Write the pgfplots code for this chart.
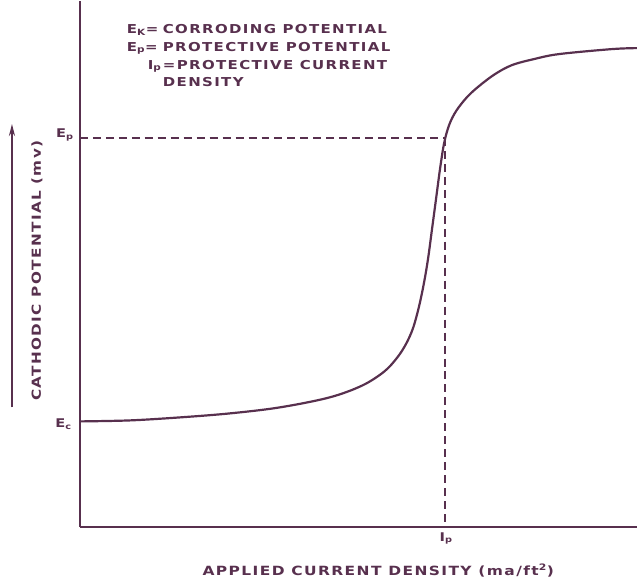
\documentclass[border=0pt]{standalone}
\usepackage{pgfplots}
\pgfplotsset{compat=1.18}
\usetikzlibrary{arrows.meta}
\usepackage{fontspec}
\setmainfont{DejaVu Sans}
\newfontfamily\lab{DejaVu Sans}[FakeStretch=1.22, LetterSpace=11]
\newfontfamily\ylab{DejaVu Sans}[FakeStretch=1.22, LetterSpace=11]
\definecolor{ink}{RGB}{88,48,78}
\begin{document}
\begin{tikzpicture}
\begin{axis}[
  scale only axis, width=558pt, height=527pt,
  xmin=0, xmax=558, ymin=0, ymax=527,
  axis lines=left, axis line style={-, line width=2.4pt, draw=ink},
  ticks=none, clip=false]
\addplot[ink, line width=2.2pt, smooth, tension=0.55] coordinates {
(0,106) (50,107) (100,110) (150,114) (200,120) (250,130) (283,142) (305,156)
(318,170) (327,184) (334,200) (340,222) (345,246) (349,270) (353,300) (357,330)
(361,360) (365,385) (370,403) (377,417) (388,431) (400,442) (416,454)
(433,463) (455,469) (480,474) (533,479) (558,480)};
\addplot[ink, line width=2pt, dash pattern=on 8pt off 5pt] coordinates {(0,390) (366,390)};
\addplot[ink, line width=2pt, dash pattern=on 8pt off 5pt] coordinates {(366,390) (366,0)};
% legend text
\begin{scope}[every node/.style={text=ink, font=\lab\bfseries\fontsize{12.3}{14}\selectfont, inner sep=0pt}]
\node[anchor=base west] at (axis cs:47,495) {E\textsubscript{K}=};
\node[anchor=base west] at (axis cs:83,495) {CORRODING POTENTIAL};
\node[anchor=base west] at (axis cs:47,477) {E\textsubscript{p}=};
\node[anchor=base west] at (axis cs:83,477) {PROTECTIVE POTENTIAL};
\node[anchor=base west] at (axis cs:68,459) {I\textsubscript{p}};
\node[anchor=base west] at (axis cs:83,459) {=};
\node[anchor=base west] at (axis cs:97,459) {PROTECTIVE CURRENT};
\node[anchor=base west] at (axis cs:83,442) {DENSITY};
\end{scope}
\begin{scope}[every node/.style={text=ink, font=\lab\bfseries\fontsize{12}{14}\selectfont, inner sep=0pt}]
\node[anchor=base east] at (axis cs:-6,390) {E\textsubscript{p}};
\node[anchor=base east] at (axis cs:-8,100) {E\textsubscript{c}};
\node[anchor=north] at (axis cs:367,-5) {I\textsubscript{p}};
\end{scope}
\node[text=ink, font=\ylab\bfseries\fontsize{12.5}{15}\selectfont, rotate=90, anchor=center, inner sep=0pt] at (axis cs:-43,257) {CATHODIC POTENTIAL (mv)};
\node[text=ink, font=\lab\bfseries\fontsize{12.7}{15}\selectfont, anchor=base, inner sep=0pt] at (axis cs:299,-48) {APPLIED CURRENT DENSITY (ma/ft\textsuperscript{2})};
\draw[ink, line width=2pt, -{Stealth[length=12pt, width=6pt]}] (axis cs:-68,120) -- (axis cs:-68,404);
\path (axis cs:-80,-52) rectangle (axis cs:558,527);
\end{axis}
\end{tikzpicture}
\end{document}
